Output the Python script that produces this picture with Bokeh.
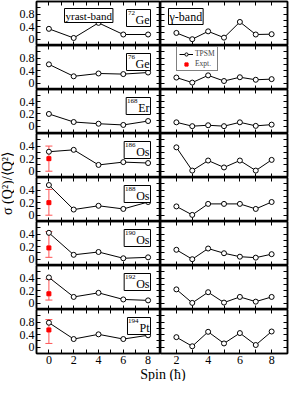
from math import pi
from bokeh.plotting import figure
from bokeh.layouts import gridplot, row, column
from bokeh.models import (Range1d, FixedTicker, Label, Legend, LegendItem, Whisker,
                          ColumnDataSource, TeeHead, LinearAxis, CustomJSTickFormatter)
from bokeh.embed import file_html
from bokeh.resources import INLINE

FONT = "Liberation Serif"

# ---------------- data ----------------
spin_yrast = [0, 2, 4, 6, 8]
spin_gamma = [2, 3, 4, 5, 6, 7, 8]

nuclei = ["72Ge", "76Ge", "168Er", "186Os", "188Os", "190Os", "192Os", "194Pt"]
mass_numbers = ["72", "76", "168", "186", "188", "190", "192", "194"]
elements = ["Ge", "Ge", "Er", "Os", "Os", "Os", "Os", "Pt"]

yrast_72Ge = [0.33, 0.04, 0.52, 0.15, 0.15]
yrast_76Ge = [0.60, 0.22, 0.31, 0.29, 0.34]
yrast_168Er = [0.20, 0.068, 0.04, 0.02, 0.084]
yrast_186Os = [0.31, 0.34, 0.10, 0.145, 0.13]
yrast_188Os = [0.48, 0.09, 0.15, 0.10, 0.21]
yrast_190Os = [0.42, 0.07, 0.115, 0.015, 0.03]
yrast_192Os = [0.41, 0.10, 0.165, 0.06, 0.045]
yrast_194Pt = [0.78, 0.26, 0.41, 0.26, 0.38]

gamma_72Ge = [0.20, 0.0, 0.25, 0.05, 0.55, 0.15, 0.16]
gamma_76Ge = [0.18, 0.02, 0.25, 0.07, 0.19, 0.11, 0.13]
gamma_168Er = [0.063, 0.0, 0.015, 0.0, 0.063, 0.005, 0.025]
gamma_186Os = [0.38, 0.01, 0.17, 0.06, 0.17, 0.01, 0.18]
gamma_188Os = [0.14, 0.005, 0.18, 0.18, 0.18, 0.10, 0.21]
gamma_190Os = [0.15, 0.0, 0.17, 0.095, 0.04, 0.025, 0.08]
gamma_192Os = [0.22, 0.005, 0.175, 0.01, 0.10, 0.025, 0.10]
gamma_194Pt = [0.32, 0.03, 0.49, 0.12, 0.45, 0.07, 0.50]

expt_nuclei = ["186Os", "188Os", "190Os", "192Os", "194Pt"]
expt_spin = [0, 0, 0, 0, 0]
expt_value = [0.20, 0.20, 0.18, 0.15, 0.55]
expt_lower = [0.00, 0.00, 0.03, 0.05, 0.12]
expt_upper = [0.40, 0.41, 0.44, 0.38, 0.88]

yrast = [yrast_72Ge, yrast_76Ge, yrast_168Er, yrast_186Os,
         yrast_188Os, yrast_190Os, yrast_192Os, yrast_194Pt]
gamma = [gamma_72Ge, gamma_76Ge, gamma_168Er, gamma_186Os,
         gamma_188Os, gamma_190Os, gamma_192Os, gamma_194Pt]

wide_ticks = [0, 0.4, 0.8]
narrow_ticks = [0, 0.2, 0.4]
y_major = [wide_ticks, wide_ticks, narrow_ticks, narrow_ticks,
           narrow_ticks, narrow_ticks, narrow_ticks, wide_ticks]
y_limits = [(-0.2, 1.2), (-0.2, 1.2), (-0.12, 0.6), (-0.1, 0.6),
            (-0.1, 0.6), (-0.1, 0.6), (-0.1, 0.6), (-0.2, 1.2)]

x_left_major = [0, 2, 4, 6, 8]
x_left_minor = [1, 3, 5, 7]
x_right_major = [2, 4, 6, 8]
x_right_minor = [3, 5, 7]

# ---------------- layout constants ----------------
ROW_H = 44
LEFT_W = 124
RIGHT_W = 127
LEFT_BORDER = 22
TICK_FONT = "12px"
ELEM_FONT = 12
MASS_FONT = 7
# approximate rendered widths (px) of the element symbols at ELEM_FONT
ELEM_W = {"Ge": 14, "Er": 11.5, "Os": 13.5, "Pt": 10.5}
BOX_RIGHT = -10  # offset of the nucleus box's right edge from the frame's right edge


def minor_of(major):
    step = major[1] - major[0]
    return [round(t + step / 2, 3) for t in major] + [round(major[0] - step / 2, 3)]


def make_axis(major, minor, labelled):
    if labelled:
        ticker = FixedTicker(ticks=major, minor_ticks=minor)
    else:
        # unlabelled edges: every tick drawn as a minor tick, so no labels exist
        ticker = FixedTicker(ticks=[], minor_ticks=sorted(major + minor))
    ax = LinearAxis(ticker=ticker)
    ax.axis_line_color = "black"
    ax.axis_line_width = 1.5
    ax.major_tick_line_color = "black"
    ax.minor_tick_line_color = "black"
    ax.major_tick_line_width = 1
    ax.minor_tick_line_width = 1
    ax.major_tick_in = 4
    ax.major_tick_out = 0
    ax.minor_tick_in = 4
    ax.minor_tick_out = 0
    ax.formatter = CustomJSTickFormatter(code="return String(tick)")
    if labelled:
        ax.major_label_text_font = FONT
        ax.major_label_text_font_size = TICK_FONT
        ax.major_label_text_color = "black"
        ax.major_label_standoff = 2
    else:
        ax.major_label_text_font_size = "0px"
        ax.major_label_standoff = 0
    return ax


def box_label(x, y, xo, yo, text, size, align, pad):
    return Label(x=x, y=y, x_offset=xo, y_offset=yo, text=text,
                 text_align=align, text_baseline="top",
                 text_font=FONT, text_font_size=size, text_color="black",
                 border_line_color="black", border_line_width=1,
                 background_fill_color="white", padding=pad)


def make_panel(i, side):
    left = side == "left"
    xr = (-1, 9) if left else (1, 9)
    top = i == 0
    bottom = i == 7
    p = figure(frame_width=LEFT_W if left else RIGHT_W, frame_height=ROW_H,
               x_range=Range1d(*xr), y_range=Range1d(*y_limits[i]),
               x_axis_location=None, y_axis_location=None,
               toolbar_location=None, output_backend="svg",
               min_border=0,
               min_border_left=LEFT_BORDER if left else 0,
               min_border_right=0 if left else 2,
               min_border_top=1 if top else 0)
    p.grid.visible = False
    p.outline_line_color = "black"
    p.outline_line_width = 1.5
    p.background_fill_color = "white"
    p.border_fill_color = "white"

    xmaj = x_left_major if left else x_right_major
    xmin = x_left_minor if left else x_right_minor
    for loc in ("below", "above"):
        p.add_layout(make_axis(xmaj, xmin, labelled=(loc == "below" and bottom)), loc)
    ymaj = y_major[i]
    for loc in ("left", "right"):
        p.add_layout(make_axis(ymaj, minor_of(ymaj), labelled=(loc == "left" and left)), loc)

    xs = spin_yrast if left else spin_gamma
    ys = yrast[i] if left else gamma[i]
    ln = p.line(xs, ys, line_color="black", line_width=1)
    cr = p.scatter(xs, ys, marker="circle", size=5, fill_color="white",
                   line_color="black", line_width=1)

    if left and nuclei[i] in expt_nuclei:
        k = expt_nuclei.index(nuclei[i])
        src = ColumnDataSource(dict(x=[expt_spin[k]], y=[expt_value[k]],
                                    lo=[expt_lower[k]], hi=[expt_upper[k]]))
        w = Whisker(source=src, base="x", lower="lo", upper="hi",
                    line_color="#ff5555", line_width=1, level="underlay",
                    upper_head=TeeHead(size=7, line_color="#ff5555", line_width=1),
                    lower_head=TeeHead(size=7, line_color="#ff5555", line_width=1))
        p.add_layout(w)
        p.scatter("x", "y", source=src, marker="square", size=4, color="red")

    if left:
        # nucleus label: box with element symbol, mass number as superscript
        mass_w = 3.5 * len(mass_numbers[i])
        p.add_layout(box_label(xr[1], y_limits[i][1], BOX_RIGHT, -8, elements[i],
                               f"{ELEM_FONT}px", "right",
                               dict(left=int(round(mass_w)) + 2, right=1, top=3, bottom=0)))
        p.add_layout(Label(x=xr[1], y=y_limits[i][1],
                           x_offset=BOX_RIGHT - 1.5 - ELEM_W[elements[i]],
                           y_offset=-9, text=mass_numbers[i], text_align="right",
                           text_baseline="top", text_font=FONT,
                           text_font_size=f"{MASS_FONT}px", text_color="black"))
        if top:
            p.add_layout(box_label(xr[0], y_limits[i][1], 28, -7, "yrast-band", "11px",
                                   "left", 1))
    else:
        if top:
            p.add_layout(box_label(xr[0], y_limits[i][1], 8, -7, "γ-band", "12px", "left", 1))
        if i == 1:
            nan = float("nan")
            dummy = p.scatter(x=[nan], y=[nan], marker="square", size=4, color="red")
            leg = Legend(items=[LegendItem(label="TPSM", renderers=[ln, cr]),
                                LegendItem(label="Expt.", renderers=[dummy])],
                         location=(16, 18))
            leg.label_text_font = FONT
            leg.label_text_font_size = "7.5px"
            leg.glyph_width = 14
            leg.glyph_height = 8
            leg.label_height = 8
            leg.label_standoff = 2
            leg.spacing = 1
            leg.padding = 2
            leg.margin = 0
            leg.border_line_color = "black"
            leg.border_line_width = 1
            leg.background_fill_alpha = 1
            p.add_layout(leg)
    return p


panels = [[make_panel(i, "left"), make_panel(i, "right")] for i in range(8)]
grid = gridplot(panels, toolbar_location=None)

GRID_H = 1 + 8 * ROW_H + 14
ytitle = figure(width=14, height=GRID_H, x_range=Range1d(0, 14), y_range=Range1d(0, GRID_H),
                x_axis_location=None, y_axis_location=None, toolbar_location=None,
                output_backend="svg", min_border=0, outline_line_color=None)
ytitle.grid.visible = False
ytitle.add_layout(Label(x=7, y=GRID_H - 183, text="σ (Q²)/⟨Q²⟩", angle=pi / 2,
                        text_align="center", text_baseline="middle",
                        text_font=FONT, text_font_size="14px", text_color="black"))

TOTAL_W = 14 + LEFT_BORDER + LEFT_W + RIGHT_W + 2
xtitle = figure(width=TOTAL_W, height=14, x_range=Range1d(0, TOTAL_W), y_range=Range1d(0, 14),
                x_axis_location=None, y_axis_location=None, toolbar_location=None,
                output_backend="svg", min_border=0, outline_line_color=None)
xtitle.grid.visible = False
xtitle.add_layout(Label(x=14 + LEFT_BORDER + (LEFT_W + RIGHT_W) / 2 + 1, y=7, text="Spin (ħ)",
                        text_align="center", text_baseline="middle",
                        text_font=FONT, text_font_size="14px", text_color="black"))

layout = column(row(ytitle, grid), xtitle)

open("out.html", "w").write(file_html(layout, INLINE))
